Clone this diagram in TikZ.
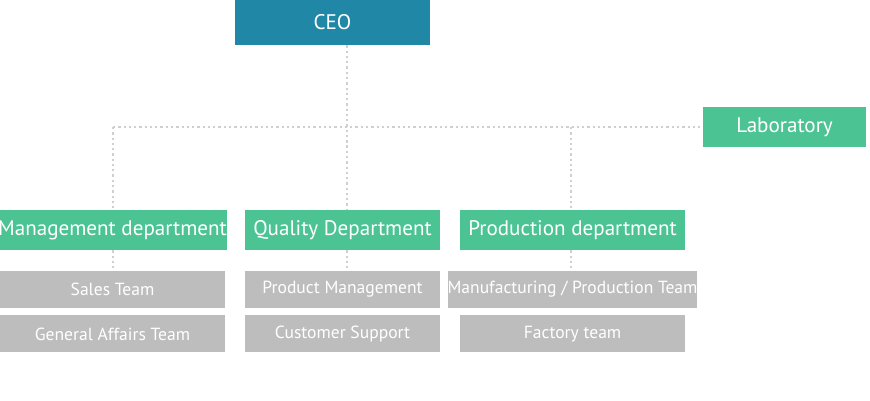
\documentclass[tikz,border=0pt]{standalone}
\usepackage{fontspec}
\setmainfont{PT Sans}
\usetikzlibrary{positioning}
\definecolor{ceoblue}{HTML}{2088A6}
\definecolor{ceofold}{HTML}{9FD3E3}
\definecolor{deptgreen}{HTML}{4CC393}
\definecolor{deptfold}{HTML}{B5EBD3}
\definecolor{teamgray}{HTML}{BDBDBD}
\definecolor{linegray}{HTML}{CFCFCF}
\tikzset{
  ceobox/.style={fill=ceoblue, text=white, minimum width=3.9cm, minimum height=0.9cm, inner sep=0pt, font=\large},
  deptbox/.style={fill=deptgreen, text=white, minimum width=4.5cm, minimum height=0.8cm, inner sep=0pt, font=\large},
  teambox/.style={fill=teamgray, text=white, minimum width=4.5cm, minimum height=0.74cm, inner sep=0pt},
  link/.style={linegray, line width=1.3pt, dash pattern=on 1.3pt off 1.7pt}
}
\newcommand{\foldcorner}[2]{%
  \fill[white] (#1.north east) -- ++(-0.3,0) -- ++(0.3,-0.3) -- cycle;
  \fill[#2] (#1.north east) ++(-0.3,0) -- ++(0.3,-0.3) -- ++(-0.3,0) -- cycle;}
\begin{document}
\begin{tikzpicture}[x=0.02cm,y=-0.02cm]
    \useasboundingbox (0,0) rectangle (870,400);

    % top level
    \node[ceobox] (ceo) at (332.5,22.5) {CEO};
    \node[deptbox, minimum width=3.26cm] (lab) at (784.5,127) {Laboratory};

    % departments
    \node[deptbox] (mgmt) at (112.5,230) {Management department};
    \node[deptbox, minimum width=3.9cm] (qual) at (342.5,230) {Quality Department};
    \node[deptbox] (prod) at (572.5,230) {Production department};

    % teams
    \node[teambox, below=0.4cm of mgmt] (sales) {Sales Team};
    \node[teambox, below=0.14cm of sales] (ga) {General Affairs Team};
    \node[teambox, minimum width=3.9cm, below=0.4cm of qual] (pm) {Product Management};
    \node[teambox, minimum width=3.9cm, below=0.14cm of pm] (cs) {Customer Support};
    \node[teambox, below=0.4cm of prod] (mfg) {Manufacturing / Production Team};
    \node[teambox, below=0.14cm of mfg] (fac) {Factory team};

    % connectors
    \coordinate (hub) at (347,127);
    \coordinate (left) at (113,127);
    \coordinate (right) at (571,127);
    \draw[link] (ceo.south -| hub) -- (qual.north -| hub);
    \draw[link] (left) -- (lab.west);
    \draw[link] (left) -- (mgmt.north -| left);
    \draw[link] (right) -- (prod.north -| right);
    \draw[link] (mgmt.south -| left) -- (sales.north -| left);
    \draw[link] (qual.south -| hub) -- (pm.north -| hub);
    \draw[link] (prod.south -| right) -- (mfg.north -| right);

    % folded corners
    \foldcorner{ceo}{ceofold}
    \foldcorner{lab}{deptfold}
    \foldcorner{mgmt}{deptfold}
    \foldcorner{qual}{deptfold}
    \foldcorner{prod}{deptfold}
\end{tikzpicture}
\end{document}
